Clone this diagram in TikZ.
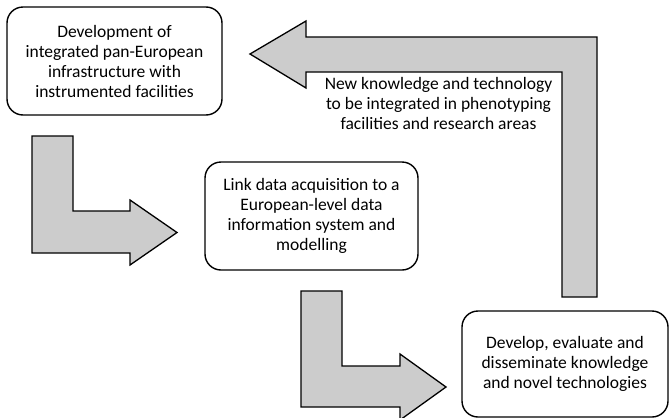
\documentclass[tikz,border=0pt]{standalone}
\usepackage{fontspec}
\setmainfont{Carlito}
\usetikzlibrary{positioning}

\begin{document}
\begin{tikzpicture}[x=1pt,y=-1pt,line width=1.4pt,
  box/.style={draw,rounded corners=16pt,align=center,font=\fontsize{17.5}{20}\selectfont},
  bigarrow/.style={draw,fill=black!20,line width=1.3pt,line join=miter}]
  \useasboundingbox[fill=white] (0,0) rectangle (670,418);
  \node[box,minimum width=215pt,minimum height=108pt](infra) at (114.5,61)
    {Development of\\integrated pan-European\\infrastructure with\\instrumented facilities};
  \node[box,minimum width=213pt,minimum height=108pt](link) at (311.5,216)
    {Link data acquisition to a\\European-level data\\information system and\\modelling};
  \node[box,minimum width=206pt,minimum height=106pt](develop) at (565,364)
    {Develop, evaluate and\\disseminate knowledge\\and novel technologies};
  % block arrows
  \draw[bigarrow] (250,54)--(306,21)--(306,37)--(597,37)--(597,297)--(562,297)
    --(562,72)--(306,72)--(306,88)--cycle;
  \draw[bigarrow] (32,136)--(73,136)--(73,211)--(130,211)--(130,200)--(177,232.5)
    --(130,265)--(130,253)--(32,253)--cycle;
  \draw[bigarrow] (301,291)--(342,291)--(342,366)--(400,366)--(400,354)--(446,387)
    --(400,420)--(400,407)--(301,407)--cycle;
  \node[align=center,font=\fontsize{17.5}{20}\selectfont](newknow) at (438.5,103)
    {New knowledge and technology\\to be integrated in phenotyping\\facilities and research areas};
\end{tikzpicture}
\end{document}
